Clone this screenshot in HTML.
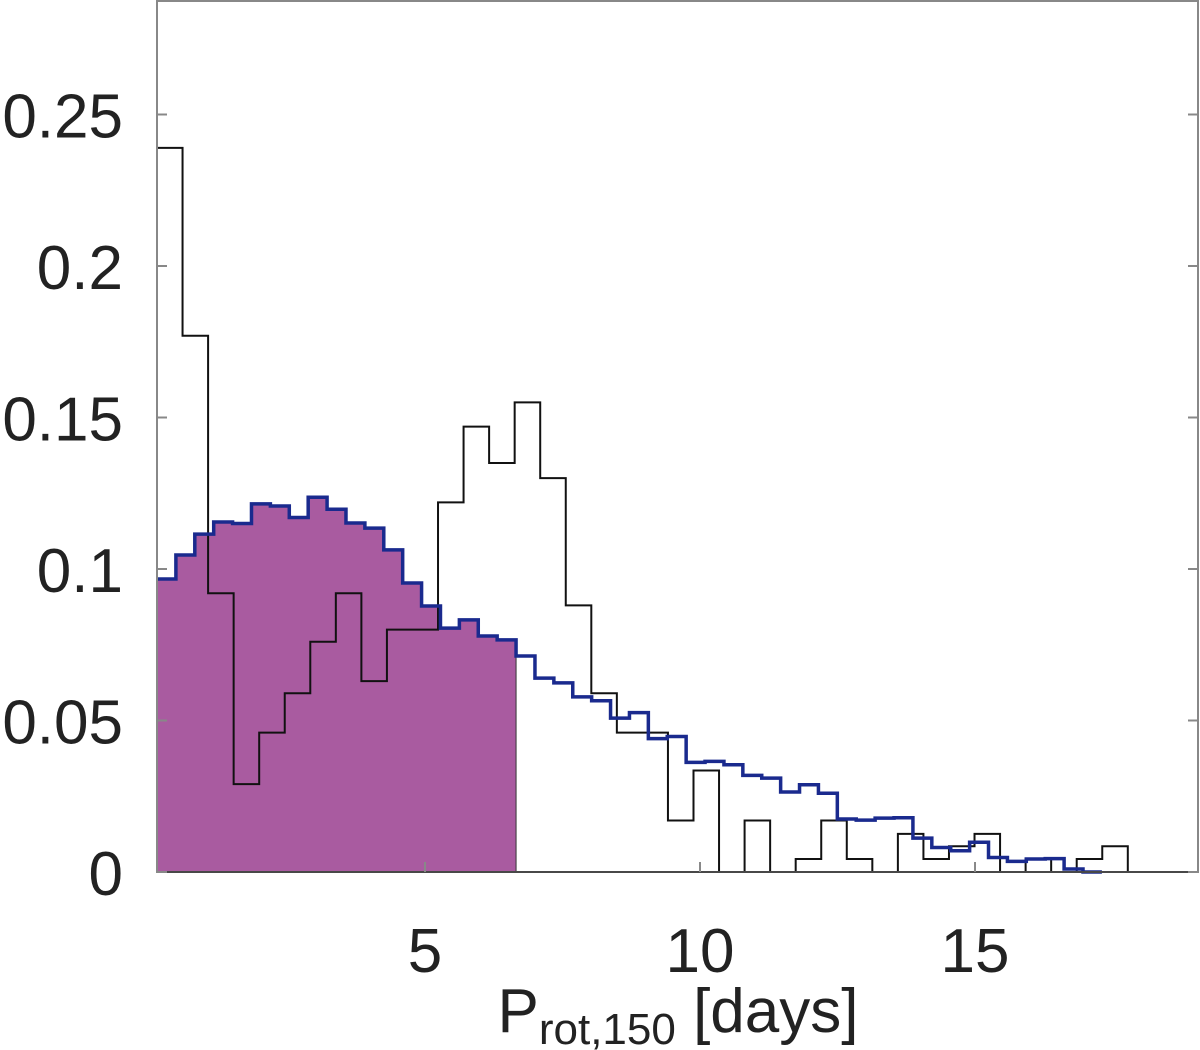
<!DOCTYPE html>
<html><head><meta charset="utf-8"><style>
html,body{margin:0;padding:0;background:#fff;}
svg{display:block;font-family:"Liberation Sans",sans-serif;}
</style></head><body>
<svg id="chart" width="1200" height="1050" viewBox="0 0 1200 1050" xmlns="http://www.w3.org/2000/svg">
<g id="plot"></g>
<text x="678" y="1032" font-size="62" fill="#222" text-anchor="middle">P<tspan font-size="44" dy="12">rot,150</tspan><tspan dy="-12"> [days]</tspan></text>
</svg>
<script>
const blackValues=[0.239,0.177,0.092,0.029,0.046,0.059,0.076,0.092,0.063,0.08,0.08,0.122,0.147,0.135,0.155,0.130,0.088,0.059,0.046,0.046,0.017,0.0335,0,0.017,0,0.0043,0.017,0.0043,0,0.0126,0.0043,0.0085,0.0126,0,0.0043,0,0.0043,0.0085];
const blueValues=[0.0967,0.1046,0.1115,0.1155,0.115,0.1215,0.1208,0.117,0.1237,0.1197,0.1152,0.1135,0.1063,0.0954,0.0878,0.0805,0.0832,0.0779,0.0766,0.0713,0.064,0.0624,0.0578,0.0565,0.0508,0.0526,0.044,0.0447,0.0362,0.0365,0.0354,0.0319,0.031,0.0264,0.0288,0.026,0.0175,0.0171,0.0178,0.0179,0.0112,0.0081,0.007,0.0098,0.0048,0.0035,0.0043,0.0044,0.001,0.0];
const filledBins=19;
const yTicks=[0,0.05,0.1,0.15,0.2,0.25];
const yTickLabels=["0","0.05","0.1","0.15","0.2","0.25"];
const xTicks=[5,10,15];
const xTickLabels=["5","10","15"];
const xMin=0.127, xMax=19.1, blackStart=0.127, blackW=0.4645, blueStart=0.127, blueW=0.3436;
const L=157,R=1198,T=1,B=872;
const pxPerX=55;
function X(v){return L+(v-xMin)*pxPerX;}
function Y(v){return B-v*3030;}
const NS="http://www.w3.org/2000/svg";
const g=document.getElementById('plot');
function mk(tag,attrs){const e=document.createElementNS(NS,tag);for(const k in attrs)e.setAttribute(k,attrs[k]);g.appendChild(e);return e;}
function stepPath(vals,start,w,n,close){
  let d="M"+X(start)+","+Y(close?0:vals[0]);
  for(let i=0;i<n;i++){const x0=X(start+i*w),x1=X(start+(i+1)*w);d+=" L"+x0+","+Y(vals[i])+" L"+x1+","+Y(vals[i]);}
  if(close)d+=" L"+X(start+n*w)+","+Y(0)+" Z";
  return d;
}
const fill=mk('path',{d:stepPath(blueValues,blueStart,blueW,filledBins,true),fill:"#a95ba0",stroke:"#333","stroke-width":1});


const bEnd=X(blackStart+blackValues.length*blackW);
let bd=stepPath(blackValues,blackStart,blackW,blackValues.length,false)+" L"+bEnd+","+Y(0)+" L"+R+","+Y(0);
const bl=mk('path',{d:bd,fill:"none",stroke:"#111","stroke-width":2});


const blu=mk('path',{d:stepPath(blueValues,blueStart,blueW,blueValues.length,false),fill:"none",stroke:"#1a2a8e","stroke-width":3.5});


const fr=mk('rect',{x:L,y:T,width:R-L,height:B-T,fill:"none",stroke:"#888","stroke-width":2});


mk('line',{x1:L,y1:B,x2:R,y2:B,stroke:"#333","stroke-width":1.5});
yTicks.forEach((v,i)=>{
  const y=Y(v);
  const t1=mk('line',{x1:L,y1:y,x2:L+10,y2:y,stroke:"#888","stroke-width":2});
  
  
  mk('line',{x1:R-10,y1:y,x2:R,y2:y,stroke:"#888","stroke-width":2});
  const tx=mk('text',{x:123,y:y+23,"font-size":62,fill:"#222","text-anchor":"end"});
  tx.textContent=yTickLabels[i];
  
  
});
xTicks.forEach((v,i)=>{
  const x=X(v);
  mk('line',{x1:x,y1:B,x2:x,y2:B-10,stroke:"#888","stroke-width":2});
  const tx=mk('text',{x:x,y:972,"font-size":62,fill:"#222","text-anchor":"middle"});
  tx.textContent=xTickLabels[i];
  
  
});
</script>
</body></html>
